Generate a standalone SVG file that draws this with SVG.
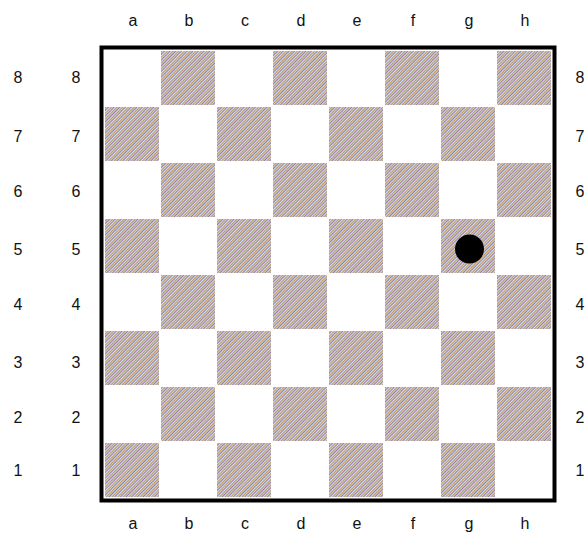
<svg xmlns="http://www.w3.org/2000/svg" width="586" height="540" viewBox="0 0 586 540">
<style>
text{font-family:"Liberation Sans",Arial,sans-serif;font-size:16px;fill:#111;text-anchor:middle}
.dk{fill:url(#hatch)}
</style>
<defs>
<pattern id="hatch" patternUnits="userSpaceOnUse" width="4" height="4" patternTransform="rotate(45)">
<rect x="0" y="0" width="4" height="4" fill="#cfe2ec"/>
<rect x="0" y="0" width="0.9" height="4" fill="#946fae"/>
<rect x="2" y="0" width="1.3" height="4" fill="#c79a5c"/>
</pattern>
</defs>
<rect width="586" height="540" fill="#fff"/>
<g id="board">
<rect x="101.5" y="47.5" width="453" height="453" fill="#fff" stroke="#000" stroke-width="4"/>
</g>
<g id="squares">
<rect class="dk" x="161" y="51" width="54" height="54"/>
<rect class="dk" x="273" y="51" width="54" height="54"/>
<rect class="dk" x="385" y="51" width="54" height="54"/>
<rect class="dk" x="497" y="51" width="54" height="54"/>
<rect class="dk" x="105" y="107" width="54" height="54"/>
<rect class="dk" x="217" y="107" width="54" height="54"/>
<rect class="dk" x="329" y="107" width="54" height="54"/>
<rect class="dk" x="441" y="107" width="54" height="54"/>
<rect class="dk" x="161" y="163" width="54" height="54"/>
<rect class="dk" x="273" y="163" width="54" height="54"/>
<rect class="dk" x="385" y="163" width="54" height="54"/>
<rect class="dk" x="497" y="163" width="54" height="54"/>
<rect class="dk" x="105" y="219" width="54" height="54"/>
<rect class="dk" x="217" y="219" width="54" height="54"/>
<rect class="dk" x="329" y="219" width="54" height="54"/>
<rect class="dk" x="441" y="219" width="54" height="54"/>
<rect class="dk" x="161" y="275" width="54" height="54"/>
<rect class="dk" x="273" y="275" width="54" height="54"/>
<rect class="dk" x="385" y="275" width="54" height="54"/>
<rect class="dk" x="497" y="275" width="54" height="54"/>
<rect class="dk" x="105" y="331" width="54" height="54"/>
<rect class="dk" x="217" y="331" width="54" height="54"/>
<rect class="dk" x="329" y="331" width="54" height="54"/>
<rect class="dk" x="441" y="331" width="54" height="54"/>
<rect class="dk" x="161" y="387" width="54" height="54"/>
<rect class="dk" x="273" y="387" width="54" height="54"/>
<rect class="dk" x="385" y="387" width="54" height="54"/>
<rect class="dk" x="497" y="387" width="54" height="54"/>
<rect class="dk" x="105" y="443" width="54" height="54"/>
<rect class="dk" x="217" y="443" width="54" height="54"/>
<rect class="dk" x="329" y="443" width="54" height="54"/>
<rect class="dk" x="441" y="443" width="54" height="54"/>
</g>
<g id="piece">
<circle cx="469.5" cy="249" r="14.5" fill="#000"/>
</g>
<g id="labels-top">
<text x="133" y="26">a</text><text x="189" y="26">b</text><text x="245" y="26">c</text><text x="301" y="26">d</text><text x="357" y="26">e</text><text x="413" y="26">f</text><text x="469" y="26">g</text><text x="525" y="26">h</text>
</g>
<g id="labels-bottom">
<text x="133" y="529">a</text><text x="189" y="529">b</text><text x="245" y="529">c</text><text x="301" y="529">d</text><text x="357" y="529">e</text><text x="413" y="529">f</text><text x="469" y="529">g</text><text x="525" y="529">h</text>
</g>
<g id="labels-left-outer">
<text x="18" y="83">8</text><text x="18" y="142">7</text><text x="18" y="197">6</text><text x="18" y="255">5</text><text x="18" y="310">4</text><text x="18" y="368">3</text><text x="18" y="423">2</text><text x="18" y="476">1</text>
</g>
<g id="labels-left-inner">
<text x="76" y="83">8</text><text x="76" y="142">7</text><text x="76" y="197">6</text><text x="76" y="255">5</text><text x="76" y="310">4</text><text x="76" y="368">3</text><text x="76" y="423">2</text><text x="76" y="476">1</text>
</g>
<g id="labels-right">
<text x="580" y="83">8</text><text x="580" y="142">7</text><text x="580" y="197">6</text><text x="580" y="255">5</text><text x="580" y="310">4</text><text x="580" y="368">3</text><text x="580" y="423">2</text><text x="580" y="476">1</text>
</g>
</svg>
